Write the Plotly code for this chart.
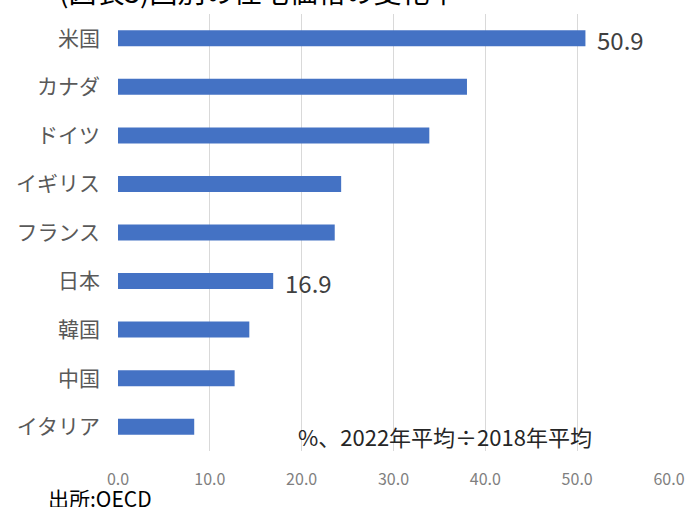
import plotly.graph_objects as go

countries = ["米国", "カナダ", "ドイツ", "イギリス", "フランス", "日本", "韓国", "中国", "イタリア"]
values = [50.9, 38.0, 33.9, 24.3, 23.6, 16.9, 14.3, 12.7, 8.3]
labeled = ["米国", "日本"]
x_ticks = [0, 10, 20, 30, 40, 50, 60]
x_tick_labels = ["0.0", "10.0", "20.0", "30.0", "40.0", "50.0", "60.0"]
title_text = "(図表3)国別の住宅価格の変化率"
note_text = "%、2022年平均÷2018年平均"
source_text = "出所:OECD"

FONT = "Noto Sans CJK JP"
W, H = 688, 507
ML, MR, MT, MB = 118, 19, 14, 56

fig = go.Figure()
fig.add_trace(go.Bar(
    x=values,
    y=countries,
    orientation="h",
    marker=dict(color="#4472C4", line=dict(width=0)),
    width=0.33,
    hoverinfo="x+y",
))

plot_w = W - ML - MR
plot_h = H - MT - MB


def px_x(px):
    return (px - ML) / plot_w


def px_y(py):
    return (H - MB - py) / plot_h


anns = []
for c, v in zip(countries, values):
    if c in labeled:
        anns.append(dict(
            x=v, y=c, xref="x", yref="y",
            text=f"{v:.1f}", showarrow=False,
            xanchor="left", yanchor="middle", xshift=10, yshift=-1,
            font=dict(family=FONT, size=24, color="#404040"),
        ))

anns.append(dict(
    x=px_x(296), y=px_y(436), xref="paper", yref="paper",
    text=note_text, showarrow=False, xanchor="left", yanchor="middle",
    font=dict(family=FONT, size=22, color="#262626"),
))
anns.append(dict(
    x=px_x(46), y=px_y(498), xref="paper", yref="paper",
    text=source_text, showarrow=False, xanchor="left", yanchor="middle",
    font=dict(family=FONT, size=21, color="#000000"),
))
anns.append(dict(
    x=px_x(57), y=px_y(-9.5), xref="paper", yref="paper",
    text=title_text, showarrow=False, xanchor="left", yanchor="middle",
    font=dict(family=FONT, size=28, color="#000000"),
))

fig.update_layout(
    width=W, height=H,
    margin=dict(l=ML, r=MR, t=MT, b=MB, autoexpand=False),
    paper_bgcolor="white",
    plot_bgcolor="white",
    showlegend=False,
    font=dict(family=FONT),
    annotations=anns,
)

fig.update_xaxes(
    range=[0, 60],
    tickvals=x_ticks,
    ticktext=x_tick_labels,
    showgrid=True,
    gridcolor="#D9D9D9",
    gridwidth=1,
    zeroline=False,
    showline=False,
    ticks="",
    ticklabelstandoff=17,
    tickfont=dict(family=FONT, size=16, color="#7F7F7F"),
    fixedrange=True,
)
fig.update_yaxes(
    categoryorder="array",
    categoryarray=countries[::-1],
    showgrid=False,
    zeroline=False,
    showline=False,
    ticks="",
    ticklabelstandoff=17,
    tickfont=dict(family=FONT, size=21, color="#595959"),
    fixedrange=True,
)

fig.write_html(
    "out.html",
    config={"displayModeBar": False},
    post_script="document.body.style.margin='0';document.body.style.overflow='hidden';",
)
